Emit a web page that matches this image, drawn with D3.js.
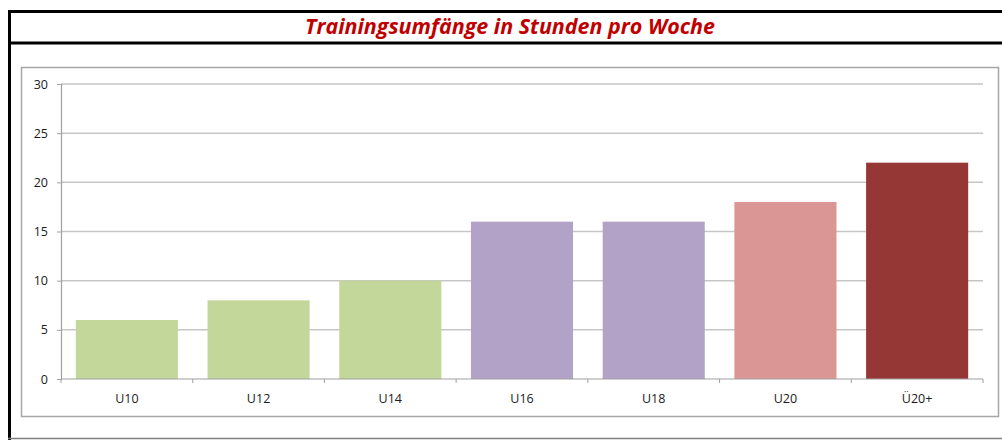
<!DOCTYPE html>
<html>
<head>
<meta charset="utf-8">
<script src="https://cdn.jsdelivr.net/npm/d3@7"></script>
<style>
  body { margin: 0; background: #fff; }
  svg { display: block; }
</style>
</head>
<body>
<div id="chart"></div>
<script>
// data
const categories = ["U10", "U12", "U14", "U16", "U18", "U20", "Ü20+"];
const hours = [6, 8, 10, 16, 16, 18, 22];
const barColors = ["#c4d79b", "#c4d79b", "#c4d79b", "#b2a2c7", "#b2a2c7", "#d99694", "#953735"];
const yTicks = [0, 5, 10, 15, 20, 25, 30];
const title = "Trainingsumfänge in Stunden pro Woche";

const width = 1002;
const height = 440;
const plot = { left: 61, right: 983, top: 84, bottom: 379 };

const svg = d3.select("#chart")
  .append("svg")
  .attr("width", width)
  .attr("height", height);

// outer frame
const frame = svg.append("g");
frame.append("line")
  .attr("x1", 8).attr("x2", width).attr("y1", 11.5).attr("y2", 11.5)
  .attr("stroke", "#000").attr("stroke-width", 3);
frame.append("line")
  .attr("x1", 8).attr("x2", width).attr("y1", 43).attr("y2", 43)
  .attr("stroke", "#000").attr("stroke-width", 3);
frame.append("line")
  .attr("x1", 9.5).attr("x2", 9.5).attr("y1", 10).attr("y2", 440)
  .attr("stroke", "#000").attr("stroke-width", 3);
frame.append("line")
  .attr("x1", 8).attr("x2", width).attr("y1", 438.5).attr("y2", 438.5)
  .attr("stroke", "#7f7f7f").attr("stroke-width", 1.5);

svg.append("text")
  .attr("x", 510)
  .attr("y", 34)
  .attr("text-anchor", "middle")
  .attr("font-family", "'Open Sans', sans-serif")
  .attr("font-weight", "bold")
  .attr("font-style", "italic")
  .attr("font-size", 21)
  .attr("textLength", 410)
  .attr("lengthAdjust", "spacingAndGlyphs")
  .attr("fill", "#c00000")
  .text(title);

// chart area box
svg.append("rect")
  .attr("x", 21.5).attr("y", 67.5)
  .attr("width", 977).attr("height", 349)
  .attr("fill", "#fff")
  .attr("stroke", "#a6a6a6")
  .attr("stroke-width", 1.5);

const x = d3.scaleBand()
  .domain(categories)
  .range([plot.left, plot.right])
  .padding(0);

const y = d3.scaleLinear()
  .domain([0, 30])
  .range([plot.bottom, plot.top]);

// gridlines
svg.append("g")
  .selectAll("line")
  .data(yTicks.filter(d => d > 0))
  .join("line")
  .attr("x1", plot.left)
  .attr("x2", plot.right)
  .attr("y1", d => y(d))
  .attr("y2", d => y(d))
  .attr("stroke", "#c6c6c6")
  .attr("stroke-width", 1.5);

// bars
const barW = x.bandwidth() * 0.775;
svg.append("g")
  .selectAll("rect")
  .data(categories)
  .join("rect")
  .attr("x", (d, i) => x(d) + (x.bandwidth() - barW) / 2)
  .attr("width", barW)
  .attr("y", (d, i) => y(hours[i]))
  .attr("height", (d, i) => y(0) - y(hours[i]))
  .attr("fill", (d, i) => barColors[i]);

// y axis
const yAxis = svg.append("g")
  .attr("transform", `translate(${plot.left},0)`)
  .call(d3.axisLeft(y).tickValues(yTicks).tickSize(4).tickPadding(9));

// x axis
const xAxis = svg.append("g")
  .attr("transform", `translate(0,${plot.bottom})`)
  .call(d3.axisBottom(x).tickSize(0).tickPadding(15));

// x tick marks on band boundaries
svg.append("g")
  .selectAll("line")
  .data(d3.range(categories.length + 1))
  .join("line")
  .attr("x1", i => plot.left + i * x.step())
  .attr("x2", i => plot.left + i * x.step())
  .attr("y1", plot.bottom)
  .attr("y2", plot.bottom + 4)
  .attr("stroke", "#a0a0a0")
  .attr("stroke-width", 1);

[yAxis, xAxis].forEach(ax => {
  ax.select(".domain").attr("stroke", "#a0a0a0").attr("stroke-width", 1.2);
  ax.selectAll(".tick line").attr("stroke", "#a0a0a0");
  ax.selectAll("text")
    .attr("font-family", "'Open Sans', sans-serif")
    .attr("font-size", 12.5)
    .attr("fill", "#1a1a1a");
});
xAxis.select(".domain").attr("d", `M${plot.left},0H${plot.right}`);
</script>
</body>
</html>
